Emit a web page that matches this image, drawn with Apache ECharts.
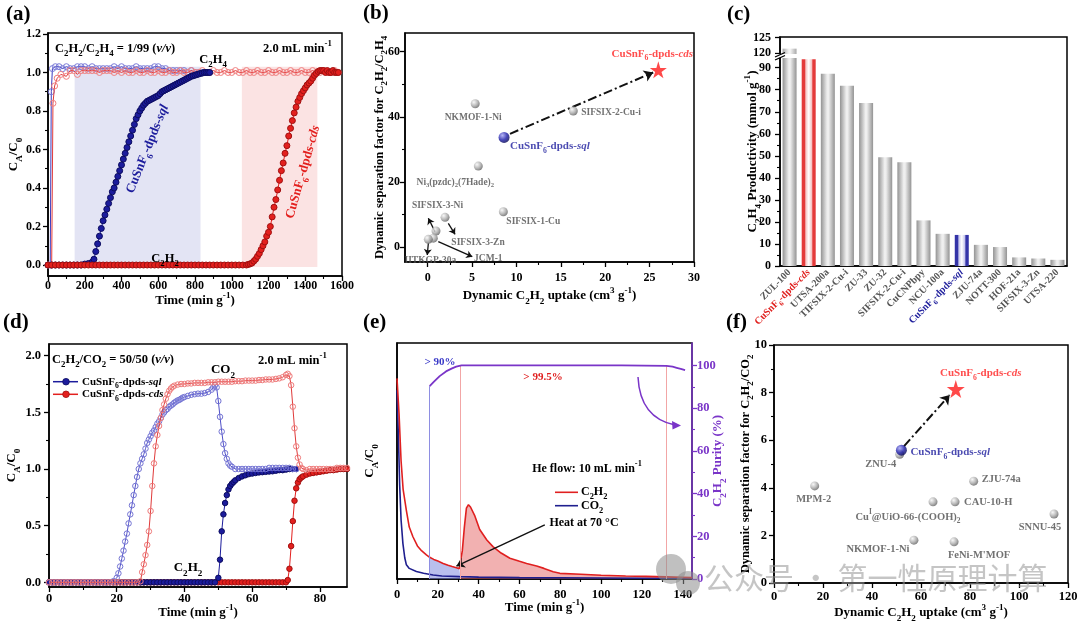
<!DOCTYPE html>
<html><head><meta charset="utf-8">
<script src="https://cdn.jsdelivr.net/npm/echarts@6/dist/echarts.min.js"></script>
<style>html,body{margin:0;padding:0;background:#fff}#c{width:1080px;height:623px}</style>
</head><body><div id="c"></div>
<script>
// ===================== DATA =====================
// (a) C2H2/C2H4 breakthrough  [time, C/C0]
const aSqlC2H4 = [[0,0],[12,0],[18,0.9],[24,1.02],[40,1.03],[60,1.03],[80,1.02],[100,1.03],[120,1.02],[140,1.02],[160,1.03],[180,1.03],[200,1.03],[220,1.02],[240,1.03],[260,1.02],[280,1.02],[300,1.02],[320,1.02],[340,1.02],[360,1.03],[380,1.02],[400,1.03],[420,1.02],[440,1.02],[460,1.02],[480,1.03],[500,1.02],[520,1.02],[540,1.02],[560,1.02],[580,1.03],[600,1.03],[620,1.02],[640,1.02],[660,1.01],[680,1.01],[700,1.01],[720,1.01],[740,1.01],[760,1.0],[780,1.01],[800,1.0],[820,1.0],[840,1.0],[860,1.0],[880,1.0]];
const aCdsC2H4 = [[0,0],[20,0],[27,0.84],[36,0.93],[50,0.97],[70,0.99],[100,0.98],[120,1.01],[140,1.01],[160,0.99],[180,1.01],[200,1.01],[220,1.01],[240,1.01],[260,1.01],[280,1.0],[300,1.01],[320,1.01],[340,1.01],[360,1.0],[380,1.01],[400,1.0],[420,1.01],[440,1.0],[460,1.0],[480,1.01],[500,1.0],[520,1.0],[540,1.01],[560,1.0],[580,1.0],[600,1.01],[620,1.0],[640,1.0],[660,1.01],[680,1.0],[700,1.0],[720,1.01],[740,1.0],[760,1.0],[780,1.01],[800,1.0],[820,1.0],[840,1.01],[860,1.0],[880,1.0],[900,1.01],[920,1.0],[940,1.0],[960,1.01],[980,1.0],[1000,1.0],[1020,1.01],[1040,1.0],[1060,1.0],[1080,1.01],[1100,1.0],[1120,1.0],[1140,1.01],[1160,1.0],[1180,1.0],[1200,1.01],[1220,1.0],[1240,1.0],[1260,1.01],[1280,1.0],[1300,1.0],[1320,1.01],[1340,1.0],[1360,1.0],[1380,1.01],[1400,1.0],[1420,1.0],[1440,1.01],[1460,1.0],[1480,1.0],[1500,1.01],[1520,1.0],[1540,1.0],[1560,1.01],[1580,1.0]];
const aSqlC2H2 = [[0,0],[20,0],[40,0],[60,0],[80,0],[100,0],[120,0],[140,0],[160,0],[180,0],[200,0.005],[220,0.008],[240,0.015],[250,0.03],[260,0.07],[270,0.11],[280,0.15],[290,0.19],[300,0.23],[310,0.26],[320,0.29],[330,0.32],[340,0.35],[350,0.38],[360,0.4],[370,0.43],[380,0.46],[390,0.49],[400,0.52],[410,0.55],[420,0.58],[430,0.61],[440,0.64],[450,0.67],[460,0.7],[470,0.73],[480,0.76],[490,0.78],[500,0.8],[510,0.815],[520,0.83],[530,0.84],[540,0.85],[550,0.855],[560,0.86],[570,0.865],[580,0.87],[590,0.875],[600,0.88],[610,0.89],[620,0.9],[630,0.905],[640,0.91],[650,0.915],[660,0.92],[670,0.925],[680,0.93],[690,0.935],[700,0.94],[710,0.945],[720,0.95],[730,0.955],[740,0.96],[750,0.965],[760,0.97],[770,0.975],[780,0.98],[790,0.983],[800,0.986],[810,0.989],[820,0.992],[830,0.995],[840,0.997],[850,1.0],[860,1.0],[870,1.0],[880,1.0]];
const aCdsC2H2 = [[0,0],[20,0],[40,0],[60,0],[80,0],[100,0],[120,0],[140,0],[160,0],[180,0],[200,0],[220,0],[240,0],[260,0],[280,0],[300,0],[320,0],[340,0],[360,0],[380,0],[400,0],[420,0],[440,0],[460,0],[480,0],[500,0],[520,0],[540,0],[560,0],[580,0],[600,0],[620,0],[640,0],[660,0],[680,0],[700,0],[720,0],[740,0],[760,0],[780,0],[800,0],[820,0],[840,0],[860,0],[880,0],[900,0],[920,0],[940,0],[960,0],[980,0],[1000,0],[1020,0],[1040,0],[1060,0],[1080,0],[1090,0.003],[1100,0.006],[1110,0.01],[1120,0.02],[1130,0.03],[1140,0.045],[1150,0.06],[1160,0.08],[1170,0.1],[1180,0.12],[1190,0.15],[1200,0.17],[1210,0.2],[1220,0.25],[1230,0.3],[1240,0.34],[1250,0.39],[1260,0.44],[1270,0.49],[1280,0.53],[1290,0.58],[1300,0.62],[1310,0.67],[1320,0.71],[1330,0.75],[1340,0.79],[1350,0.82],[1360,0.85],[1370,0.87],[1380,0.89],[1390,0.905],[1400,0.92],[1410,0.935],[1420,0.945],[1430,0.955],[1440,0.97],[1450,0.985],[1460,0.995],[1470,1.005],[1480,1.01],[1490,1.01],[1500,1.01],[1510,1.0],[1520,1.01],[1530,1.0],[1540,1.0],[1550,1.01],[1560,1.0],[1570,1.0],[1580,1.0]];
const aShade = [[145,830,-0.01,1.03],[1055,1466,-0.01,1.03]];   // [x0,x1,y0,y1]
const aXTicks = [0,200,400,600,800,1000,1200,1400,1600];
const aXMinor = [100,300,500,700,900,1100,1300,1500];
const aYTicks = [0,0.2,0.4,0.6,0.8,1.0,1.2];
const aYMinor = [0.1,0.3,0.5,0.7,0.9,1.1];

// (b) C2H2/C2H4 dynamic separation
const bNames  = ['NKMOF-1-Ni','SIFSIX-2-Cu-i','Ni_{3}(pzdc)_{2}(7Hade)_{2}','SIFSIX-1-Cu','SIFSIX-3-Ni','SIFSIX-3-Zn','JCM-1','IITKGP-30a'];
const bUptake = [5.35,16.4,5.7,8.52,0.93,1.95,0.63,0.07];
const bFactor = [44.0,41.8,24.9,10.9,5.0,9.2,2.8,2.45];
const bSql = [8.6,33.7];
const bCds = [25.98,54.4];
const bTrend = [[9.27,34.8],[25.4,53.6]];
const bPointers = [[[0.82,4.8],[0.07,8.9]],[[2.32,7.36],[3.08,3.99]],[[1.19,1.72],[5.02,-2.88]],[[0.07,1.23],[-0.05,-2.36]]];
const bXTicks = [0,5,10,15,20,25,30];
const bXMinor = [2.5,7.5,12.5,17.5,22.5,27.5];
const bYTicks = [0,20,40,60];
const bYMinor = [10,30,50];

// (c) C2H4 productivity
const cCats = ['ZUL-100','CuSnF_{6}-dpds-*cds*','UTSA-200a','TIFSIX-2-Cu-i','ZU-33','ZU-32','SIFSIX-2-Cu-i','CuCNPbpy','NCU-100a','CuSnF_{6}-dpds-*sql*','ZJU-74a','NOTT-300','HOF-21a','SIFSIX-3-Zn','UTSA-220'];
const cValues = [121.5,93.8,87.3,81.8,74.0,49.4,47.1,20.7,14.6,14.1,9.6,8.6,3.9,3.4,2.8];
const cBreak = [94.4,119.8];
const cLowTicks = [0,10,20,30,40,50,60,70,80,90];
const cLowMinor = [5,15,25,35,45,55,65,75,85];
const cUpTicks = [120,125];

// (d) C2H2/CO2 breakthrough
const dSqlCO2 = [[0,0],[1,0],[2,0],[3,0],[4,0],[5,0],[6,0],[7,0],[8,0],[9,0],[10,0],[11,0],[12,0],[13,0],[14,0],[15,0],[16,0],[17,0],[18,0],[19,0.01],[20,0.04],[20.5,0.08],[21,0.14],[21.5,0.21],[22,0.28],[22.5,0.36],[23,0.43],[23.5,0.52],[24,0.6],[24.5,0.68],[25,0.77],[25.5,0.85],[26,0.93],[26.5,1.0],[27,1.05],[27.5,1.09],[28,1.13],[28.5,1.18],[29,1.23],[29.5,1.26],[30,1.29],[30.5,1.32],[31,1.34],[31.5,1.37],[32,1.4],[32.5,1.42],[33,1.45],[33.5,1.48],[34,1.5],[34.5,1.52],[35,1.53],[35.5,1.55],[36,1.56],[36.5,1.57],[37,1.585],[37.5,1.595],[38,1.605],[38.5,1.61],[39,1.62],[39.5,1.63],[40,1.635],[41,1.645],[42,1.655],[43,1.66],[44,1.665],[45,1.665],[46,1.67],[47,1.68],[48,1.7],[48.5,1.72],[49,1.74],[49.5,1.72],[50,1.6],[50.5,1.46],[51,1.33],[51.5,1.22],[52,1.14],[52.5,1.09],[53,1.05],[53.5,1.03],[54,1.02],[55,1.0],[56,1.0],[57,1.0],[58,1.0],[59,1.0],[60,1.0],[61,1.0],[62,1.0],[63,1.0],[64,1.0],[65,1.01],[66,1.01],[67,1.01],[68,1.01],[69,1.01],[70,1.01],[71,1.01],[72,1.0],[73,1.0]];
const dCdsCO2 = [[0,0],[1,0],[2,0],[3,0],[4,0],[5,0],[6,0],[7,0],[8,0],[9,0],[10,0],[11,0],[12,0],[13,0],[14,0],[15,0],[16,0],[17,0],[18,0],[19,0],[20,0],[21,0],[22,0],[23,0],[24,0],[25,0],[26,0],[27,0.01],[27.5,0.09],[28,0.16],[28.5,0.24],[29,0.33],[29.5,0.45],[30,0.63],[30.5,0.85],[31,1.05],[31.5,1.2],[32,1.3],[32.5,1.38],[33,1.45],[33.5,1.52],[34,1.57],[34.5,1.62],[35,1.66],[35.5,1.69],[36,1.71],[36.5,1.725],[37,1.735],[38,1.745],[39,1.75],[40,1.75],[41,1.755],[42,1.755],[43,1.76],[44,1.76],[45,1.76],[46,1.76],[47,1.765],[48,1.765],[49,1.765],[50,1.77],[51,1.77],[52,1.77],[53,1.77],[54,1.77],[55,1.775],[56,1.775],[57,1.775],[58,1.78],[59,1.78],[60,1.78],[61,1.78],[62,1.785],[63,1.785],[64,1.79],[65,1.79],[66,1.79],[67,1.795],[68,1.8],[69,1.81],[70,1.83],[70.5,1.84],[71,1.82],[71.5,1.74],[72,1.55],[72.5,1.36],[73,1.2],[73.5,1.1],[74,1.04],[74.5,1.01],[75,1.0],[76,0.99],[77,1.0],[78,1.0],[79,1.0],[80,1.0],[81,1.0],[82,1.0],[83,1.0],[84,1.0],[85,1.01],[86,1.01],[87,1.01],[88,1.01]];
const dSqlC2H2 = [[0,0],[1,0],[2,0],[3,0],[4,0],[5,0],[6,0],[7,0],[8,0],[9,0],[10,0],[11,0],[12,0],[13,0],[14,0],[15,0],[16,0],[17,0],[18,0],[19,0],[20,0],[21,0],[22,0],[23,0],[24,0],[25,0],[26,0],[27,0],[28,0],[29,0],[30,0],[31,0],[32,0],[33,0],[34,0],[35,0],[36,0],[37,0],[38,0],[39,0],[40,0],[41,0],[42,0],[43,0],[44,0],[45,0],[46,0],[47,0],[48,0],[49,0],[50,0.04],[50.5,0.2],[51,0.45],[51.5,0.6],[52,0.7],[52.5,0.77],[53,0.82],[53.5,0.85],[54,0.87],[54.5,0.885],[55,0.9],[56,0.92],[57,0.935],[58,0.945],[59,0.955],[60,0.96],[61,0.965],[62,0.97],[63,0.972],[64,0.975],[65,0.978],[66,0.98],[67,0.985],[68,0.99],[69,0.99],[70,0.995],[71,1.0],[72,1.0],[73,1.0]];
const dCdsC2H2 = [[0,0],[1,0],[2,0],[3,0],[4,0],[5,0],[6,0],[7,0],[8,0],[9,0],[10,0],[11,0],[12,0],[13,0],[14,0],[15,0],[16,0],[17,0],[18,0],[19,0],[20,0],[21,0],[22,0],[23,0],[24,0],[25,0],[26,0],[27,0],[28,0],[29,0],[30,0],[31,0],[32,0],[33,0],[34,0],[35,0],[36,0],[37,0],[38,0],[39,0],[40,0],[41,0],[42,0],[43,0],[44,0],[45,0],[46,0],[47,0],[48,0],[49,0],[50,0],[51,0],[52,0],[53,0],[54,0],[55,0],[56,0],[57,0],[58,0],[59,0],[60,0],[61,0],[62,0],[63,0],[64,0],[65,0],[66,0],[67,0],[68,0],[69,0],[70,0],[70.5,0.02],[71,0.12],[71.5,0.32],[72,0.54],[72.5,0.72],[73,0.83],[73.5,0.88],[74,0.91],[74.5,0.925],[75,0.935],[76,0.95],[77,0.96],[78,0.965],[79,0.97],[80,0.975],[81,0.98],[82,0.985],[83,0.99],[84,0.99],[85,0.995],[86,1.0],[87,1.0],[88,1.0]];
const dXTicks = [0,20,40,60,80];
const dXMinor = [10,30,50,70];
const dYTicks = [0,0.5,1.0,1.5,2.0];
const dYMinor = [0.25,0.75,1.25,1.75];

// (e) desorption
const eC2H2 = [[0,0.85],[1,0.7],[2,0.5],[3,0.38],[4.6,0.29],[6,0.22],[7.8,0.179],[10,0.14],[12,0.12],[14.4,0.102],[16,0.092],[18,0.083],[20,0.076],[22.6,0.066],[25,0.058],[27,0.053],[29.1,0.048],[30.5,0.044],[31.2,0.048],[32,0.12],[33,0.22],[34,0.3],[35,0.315],[36,0.305],[38,0.27],[40.5,0.21],[44,0.165],[47,0.137],[51,0.11],[55.3,0.088],[60,0.075],[63.5,0.066],[68.4,0.055],[72,0.045],[76.5,0.031],[79.8,0.024],[90,0.02],[100,0.016],[112,0.013],[122,0.011],[131.8,0.009],[140,0.007],[144.5,0.006]];
const eCO2 = [[0,0.8],[0.7,0.6],[1.3,0.4],[2,0.25],[2.9,0.15],[3.8,0.09],[4.6,0.06],[6,0.045],[9.5,0.032],[13,0.024],[17.7,0.017],[22,0.013],[30.7,0.01],[40,0.008],[60,0.006],[80,0.005],[100,0.004],[120,0.003],[144.5,0.003]];
const ePurity = [[16,90.3],[18,92.3],[20.9,95],[24,97.2],[26.7,98.5],[29,99.4],[31.6,100],[50,100],[80,100],[110,100],[132,99.8],[135,99.4],[137,98.9],[139,98.4],[141.1,97.8]];
const eVLines = [[16,90.3],[31.2,100],[131.8,99.8]];
const eBlueZone = [16,31.2];
const eRedZone = [31.2,131.8];
const eHeat = [[72.4,0.229],[29.1,0.055]];
const eXTicks = [0,20,40,60,80,100,120,140];
const eXMinor = [10,30,50,70,90,110,130];
const eRTicks = [0,20,40,60,80,100];
const eRMinor = [10,30,50,70,90];

// (f) C2H2/CO2 dynamic separation
const fNames  = ['MPM-2','ZNU-4','ZJU-74a','Cu^{I}@UiO-66-(COOH)_{2}','CAU-10-H','SNNU-45','NKMOF-1-Ni',"FeNi-M'MOF"];
const fUptake = [16.6,51.3,81.5,64.9,73.9,114.3,57.1,73.5];
const fFactor = [4.08,5.41,4.28,3.41,3.41,2.9,1.8,1.73];
const fSql = [52.0,5.58];
const fCds = [74.2,8.15];
const fTrend = [[53.1,5.75],[71.7,7.9]];
const fXTicks = [0,20,40,60,80,100,120];
const fXMinor = [10,30,50,70,90,110];
const fYTicks = [0,2,4,6,8,10];
const fYMinor = [1,3,5,7,9];

// ===================== STYLE / LAYOUT =====================
const F = "'Liberation Serif','Times New Roman',serif";
const BLUE = '#1c1c9c', RED = '#e3201e', PURPLE = '#7a35c8', GRAYT = '#4d4d4d';
// label placement [dx, dy, align]
const labB = {'NKMOF-1-Ni':[-2,13.5,'center'],'SIFSIX-2-Cu-i':[8,2,'left'],'Ni_{3}(pzdc)_{2}(7Hade)_{2}':[-23,16,'center'],'SIFSIX-1-Cu':[3,10,'left'],'SIFSIX-3-Ni':[1.5,-25,'center'],'SIFSIX-3-Zn':[33,25,'center'],'JCM-1':[55,20,'center'],'IITKGP-30a':[2,21,'center']};
const labF = {'MPM-2':[-1,13.5,'center'],'ZNU-4':[-19,10,'center'],'ZJU-74a':[8,-2,'left'],'Cu^{I}@UiO-66-(COOH)_{2}':[-25,15,'center'],'CAU-10-H':[9,0,'left'],'SNNU-45':[-14,13,'center'],'NKMOF-1-Ni':[-36,9,'center'],"FeNi-M'MOF":[25,13,'center']};

function rt(s, p) {
  p = p || '';
  const out = []; let cur = ''; let it = false;
  const flush = () => { if (cur) { out.push('{' + p + (it ? 'i' : 'n') + '|' + cur + '}'); cur = ''; } };
  for (let k = 0; k < s.length; k++) {
    const c = s[k];
    if ((c === '_' || c === '^') && s[k + 1] === '{') {
      flush();
      const j = s.indexOf('}', k + 2);
      out.push('{' + p + (c === '_' ? 's' : 'u') + '|' + s.slice(k + 2, j) + '}');
      k = j; continue;
    }
    if (c === '*') { flush(); it = !it; continue; }
    cur += c;
  }
  flush();
  return out.join('');
}
function RS(size, color, p) {
  p = p || '';
  const L = Math.round(size * 1.5), sz = Math.round(size * 7) / 10, h = Math.round(L / 2);
  const b = {fontFamily: F, fontWeight: 'bold', color: color, fill: color};
  const r = {};
  r[p + 'n'] = Object.assign({}, b, {fontSize: size, lineHeight: L, verticalAlign: 'middle'});
  r[p + 'i'] = Object.assign({}, b, {fontSize: size, lineHeight: L, verticalAlign: 'middle', fontStyle: 'italic'});
  r[p + 's'] = Object.assign({}, b, {fontSize: sz, lineHeight: h, verticalAlign: 'bottom'});
  r[p + 'u'] = Object.assign({}, b, {fontSize: sz, lineHeight: h, verticalAlign: 'top'});
  return r;
}
function ball(c0, c1, c2) {
  return {type: 'radial', x: 0.35, y: 0.32, r: 0.75, colorStops: [{offset: 0, color: c0}, {offset: 0.55, color: c1}, {offset: 1, color: c2}]};
}
const STAR = 'path://M50,0 L61,35 L98,35 L68,57 L79,91 L50,70 L21,91 L32,57 L2,35 L39,35 Z';

const grid = [], xAxis = [], yAxis = [], series = [], graphic = [];
function addGrid(left, top, width, height, show) {
  grid.push({left, top, width, height, show, borderColor: '#000', borderWidth: 1.5, backgroundColor: 'transparent', containLabel: false, outerBoundsMode: 'none'});
  return grid.length - 1;
}
function valAxes(list, gi, o) {
  const color = o.color || '#000';
  const isY = list === yAxis;
  const main = {
    type: 'value', gridIndex: gi, min: o.min, max: o.max, position: o.position,
    axisLine: {show: true, onZero: false, lineStyle: {color, width: 1.5}},
    axisTick: {show: true, customValues: o.majors, length: 5, lineStyle: {color, width: 1.3}},
    axisLabel: {show: true, customValues: o.majors, formatter: o.fmt || (v => String(v)), fontFamily: F, fontWeight: 'bold', fontSize: o.fs || 12.5, color, margin: o.margin},
    splitLine: {show: false}
  };
  if (o.name) {
    main.name = rt(o.name); main.nameLocation = 'middle'; main.nameGap = o.gap; main.nameRotate = isY ? 90 : 0;
    main.nameMoveOverlap = false;
    main.nameTextStyle = {fontFamily: F, fontWeight: 'bold', fontSize: o.nfs || 13, color, rich: RS(o.nfs || 13, color)};
  }
  list.push(main);
  const idx = list.length - 1;
  if (o.minors) list.push({type: 'value', gridIndex: gi, min: o.min, max: o.max, position: o.position,
    axisLine: {show: false, onZero: false}, axisTick: {show: true, customValues: o.minors, length: 3, lineStyle: {color, width: 1.1}},
    axisLabel: {show: false}, splitLine: {show: false}});
  return idx;
}
function T(x, y, s, size, color, align, rotDeg) {
  graphic.push({type: 'text', x, y, rotation: (rotDeg || 0) * Math.PI / 180, z: 100,
    style: {text: rt(s), rich: RS(size, color), align: align || 'left', verticalAlign: 'middle', textAlign: align || 'left', textVerticalAlign: 'middle', fill: color, fontSize: size, fontFamily: F, fontWeight: 'bold'}});
}
function markerLine(xi, yi, data, o) {
  return {type: 'line', xAxisIndex: xi, yAxisIndex: yi, data, symbol: 'circle', symbolSize: o.size, showAllSymbol: true,
    itemStyle: {color: o.fill, borderColor: o.stroke, borderWidth: 1}, lineStyle: {color: o.line, width: 1}, z: o.z, silent: true, animation: false};
}
function arrowMark(pairs, o) {
  return {silent: true, symbol: ['none', 'arrow'], symbolSize: o.head, label: {show: false}, emphasis: {disabled: true},
    lineStyle: {color: o.color, width: o.width, type: o.type || 'solid'},
    data: pairs.map(p => [{coord: p[0]}, {coord: p[1]}])};
}

// ---------- grids
const gA = addGrid(48, 33, 294, 243, true);
const gB = addGrid(405, 33, 289, 229, true);
const gCf = addGrid(780, 37, 287, 229, true);
const gCl = addGrid(780, 58, 287, 208, false);
const gCu = addGrid(780, 37, 287, 17, false);
const gD = addGrid(49, 344, 298, 243, true);
const gE = addGrid(397, 343, 295, 236, true);
const gF = addGrid(774, 345, 294, 238, true);

// ---------- (a)
const axA = valAxes(xAxis, gA, {min: 0, max: 1600, majors: aXTicks, minors: aXMinor, margin: 4, name: 'Time (min g^{-1})', gap: 15, position: 'bottom', fs: 12});
const ayA = valAxes(yAxis, gA, {min: -0.057, max: 1.205, majors: aYTicks, minors: aYMinor, fmt: v => v.toFixed(1), margin: 7, name: 'C_{A}/C_{0}', gap: 24, position: 'left', fs: 12});
const shadeColors = ['#e3e4f4', '#fbe3e3'];
series.push({type: 'custom', xAxisIndex: axA, yAxisIndex: ayA, data: aShade, encode: {x: [0, 1], y: [2, 3]}, z: 1, silent: true,
  renderItem: (params, api) => {
    const p0 = api.coord([api.value(0), api.value(2)]);
    const p1 = api.coord([api.value(1), api.value(3)]);
    return {type: 'rect', shape: {x: p0[0], y: p1[1], width: p1[0] - p0[0], height: p0[1] - p1[1]}, style: {fill: shadeColors[params.dataIndex]}};
  }});
series.push(markerLine(axA, ayA, aSqlC2H4, {size: 6, fill: 'rgba(255,255,255,0)', stroke: '#7c7cd8', line: '#3b3bbf', z: 3}));
series.push(markerLine(axA, ayA, aCdsC2H4, {size: 6, fill: 'rgba(255,255,255,0)', stroke: '#f08080', line: '#e23b3b', z: 4}));
series.push(markerLine(axA, ayA, aSqlC2H2, {size: 6, fill: BLUE, stroke: '#0c0c60', line: BLUE, z: 5}));
series.push(markerLine(axA, ayA, aCdsC2H2, {size: 6, fill: RED, stroke: '#a01010', line: RED, z: 6}));

// ---------- (b)
const axB = valAxes(xAxis, gB, {min: -2.56, max: 30, majors: bXTicks, minors: bXMinor, margin: 10, name: 'Dynamic C_{2}H_{2} uptake (cm^{3} g^{-1})', gap: 24, position: 'bottom', fs: 12});
const ayB = valAxes(yAxis, gB, {min: -4.5, max: 65.7, majors: bYTicks, minors: bYMinor, margin: 5, name: 'Dynamic separation factor for C_{2}H_{2}/C_{2}H_{4}', gap: 16, position: 'left', fs: 12, nfs: 12.5});
function ptLabel(name, lay, size, color) {
  return {show: true, position: 'inside', offset: [lay[0], lay[1]], align: lay[2], verticalAlign: 'middle', formatter: () => rt(name), rich: RS(size, color)};
}
series.push({type: 'scatter', xAxisIndex: axB, yAxisIndex: ayB, symbolSize: 9, z: 5, silent: true,
  itemStyle: {color: ball('#f6f6f6', '#a8a8a8', '#585858')},
  data: bNames.map((n, i) => ({value: [bUptake[i], bFactor[i]], label: ptLabel(n, labB[n], 9.5, GRAYT)})),
  markLine: arrowMark(bPointers, {color: '#111', width: 1.3, head: 6})});
series.push({type: 'scatter', xAxisIndex: axB, yAxisIndex: ayB, symbolSize: 11, z: 6, silent: true,
  itemStyle: {color: ball('#a4a4f4', '#1a1aa8', '#05054a')},
  data: [{value: bSql, label: ptLabel('CuSnF_{6}-dpds-*sql*', [6, 9, 'left'], 11, BLUE)}],
  markLine: arrowMark([bTrend], {color: '#111', width: 2, head: 9, type: [9, 3, 2, 3]})});
series.push({type: 'scatter', xAxisIndex: axB, yAxisIndex: ayB, symbol: STAR, symbolSize: 17, z: 7, silent: true,
  itemStyle: {color: '#ff1c1c'},
  data: [{value: bCds, label: ptLabel('CuSnF_{6}-dpds-*cds*', [-6, -16, 'center'], 11, '#ff2020')}]});

// ---------- (c)
xAxis.push({type: 'value', gridIndex: gCf, show: false, min: 0, max: 1});
yAxis.push({type: 'value', gridIndex: gCf, min: 0, max: 1, axisLine: {show: false}, axisTick: {show: false}, axisLabel: {show: false}, splitLine: {show: false},
  name: rt('C_{2}H_{4} Productivity (mmol g^{-1})'), nameLocation: 'middle', nameGap: 17, nameRotate: 90, nameMoveOverlap: false,
  nameTextStyle: {fontFamily: F, fontWeight: 'bold', fontSize: 13, rich: RS(13, '#000')}});
const cPrefix = v => v.indexOf('*cds*') >= 0 ? 'r' : (v.indexOf('*sql*') >= 0 ? 'b' : '');
xAxis.push({type: 'category', gridIndex: gCl, data: cCats, position: 'bottom',
  axisLine: {onZero: false, lineStyle: {color: '#000', width: 1.5}}, axisTick: {show: false},
  axisLabel: {interval: 0, rotate: 45, margin: 5, formatter: v => rt(v, cPrefix(v)),
    rich: Object.assign({}, RS(10, '#555'), RS(10, '#e0201e', 'r'), RS(10, '#22229e', 'b'))},
  splitLine: {show: false}});
const axCl = xAxis.length - 1;
const ayCl = valAxes(yAxis, gCl, {min: 0, max: cBreak[0], majors: cLowTicks, minors: cLowMinor, margin: 9, position: 'left', fs: 12});
xAxis.push({type: 'category', gridIndex: gCu, data: cCats, show: false});
const axCu = xAxis.length - 1;
const ayCu = valAxes(yAxis, gCu, {min: cBreak[1], max: 125.2, majors: cUpTicks, margin: 9, position: 'left', fs: 12});
function barGrad(edge, mid) {
  return {type: 'linear', x: 0, y: 0, x2: 1, y2: 0, colorStops: [{offset: 0, color: edge}, {offset: 0.45, color: mid}, {offset: 0.55, color: mid}, {offset: 1, color: edge}]};
}
function barStripe(edge, tint) {
  return {type: 'linear', x: 0, y: 0, x2: 1, y2: 0, colorStops: [{offset: 0, color: edge}, {offset: 0.2, color: edge}, {offset: 0.3, color: tint}, {offset: 0.5, color: '#ffffff'}, {offset: 0.7, color: tint}, {offset: 0.8, color: edge}, {offset: 1, color: edge}]};
}
function barStyle(name) {
  const p = cPrefix(name);
  if (p === 'r') return {color: barStripe('#e43a3a', '#f6c6c6')};
  if (p === 'b') return {color: barStripe('#3434a8', '#c8c8ee')};
  return {color: barGrad('#939393', '#efefef')};
}
series.push({type: 'bar', xAxisIndex: axCl, yAxisIndex: ayCl, barWidth: 14, clip: true, silent: true, z: 3,
  data: cValues.map((v, i) => ({value: v, itemStyle: barStyle(cCats[i])}))});
series.push({type: 'bar', xAxisIndex: axCu, yAxisIndex: ayCu, barWidth: 14, clip: true, silent: true, z: 3,
  data: cValues.map((v, i) => v > cBreak[1] ? {value: v, itemStyle: {color: barGrad('#a9a9a9', '#f4f4f4')}} : '-')});

// ---------- (d)
const axD = valAxes(xAxis, gD, {min: 0, max: 88, majors: dXTicks, minors: dXMinor, margin: 5, name: 'Time (min g^{-1})', gap: 16, position: 'bottom', fs: 12.5});
const ayD = valAxes(yAxis, gD, {min: -0.041, max: 2.103, majors: dYTicks, minors: dYMinor, fmt: v => v.toFixed(1), margin: 8, name: 'C_{A}/C_{0}', gap: 27, position: 'left', fs: 12.5});
series.push(markerLine(axD, ayD, dCdsC2H2, {size: 5.5, fill: RED, stroke: '#a01010', line: RED, z: 3}));
series.push(markerLine(axD, ayD, dSqlC2H2, {size: 5.5, fill: BLUE, stroke: '#0c0c60', line: BLUE, z: 4}));
series.push(markerLine(axD, ayD, dSqlCO2, {size: 5.5, fill: 'rgba(255,255,255,0)', stroke: '#7474d4', line: '#5050c8', z: 5}));
series.push(markerLine(axD, ayD, dCdsCO2, {size: 5.5, fill: 'rgba(255,255,255,0)', stroke: '#ef7c7c', line: '#e03a3a', z: 6}));

// ---------- (e)
const axE = valAxes(xAxis, gE, {min: 0, max: 144.5, majors: eXTicks, minors: eXMinor, margin: 9, name: 'Time (min g^{-1})', gap: 19, position: 'bottom', fs: 12.5});
yAxis.push({type: 'value', gridIndex: gE, min: 0, max: 1, position: 'left', axisLine: {show: true, onZero: false, lineStyle: {color: '#000', width: 1.5}},
  axisTick: {show: false}, axisLabel: {show: false}, splitLine: {show: false},
  name: rt('C_{A}/C_{0}'), nameLocation: 'middle', nameGap: 17, nameRotate: 90, nameMoveOverlap: false, nameTextStyle: {fontFamily: F, fontWeight: 'bold', fontSize: 13, rich: RS(13, '#000')}});
const ayE = yAxis.length - 1;
const ayER = valAxes(yAxis, gE, {min: 0, max: 110.5, majors: eRTicks, minors: eRMinor, margin: 5, name: 'C_{2}H_{2} Purity (%)', gap: 16, position: 'right', color: PURPLE, fs: 12.5});
const inZone = z => eC2H2.filter(p => p[0] >= z[0] && p[0] <= z[1]);
series.push({type: 'line', xAxisIndex: axE, yAxisIndex: ayE, data: inZone(eBlueZone), symbol: 'none', lineStyle: {width: 0}, areaStyle: {color: 'rgba(128,138,222,0.55)', opacity: 1}, z: 1, silent: true});
series.push({type: 'line', xAxisIndex: axE, yAxisIndex: ayE, data: inZone(eRedZone), symbol: 'none', lineStyle: {width: 0}, areaStyle: {color: 'rgba(230,100,100,0.5)', opacity: 1}, z: 1, silent: true});
series.push({type: 'line', xAxisIndex: axE, yAxisIndex: ayE, data: eCO2, symbol: 'none', lineStyle: {color: '#1f1f8f', width: 1.6}, z: 3, silent: true});
series.push({type: 'line', xAxisIndex: axE, yAxisIndex: ayE, data: eC2H2, symbol: 'none', lineStyle: {color: '#e02020', width: 1.6}, z: 4, silent: true,
  markLine: arrowMark([eHeat], {color: '#111', width: 1.4, head: 8})});
series.push({type: 'line', xAxisIndex: axE, yAxisIndex: ayER, data: ePurity, symbol: 'none', lineStyle: {color: PURPLE, width: 1.8}, z: 5, silent: true,
  markLine: {silent: true, symbol: ['none', 'none'], label: {show: false}, emphasis: {disabled: true},
    data: eVLines.map((p, i) => [{coord: [p[0], 0], lineStyle: {color: i === 0 ? '#8e8ee2' : '#f2a6a6', width: 1, type: 'solid'}}, {coord: [p[0], p[1]]}])}});

// ---------- (f)
const axF = valAxes(xAxis, gF, {min: 0, max: 120, majors: fXTicks, minors: fXMinor, margin: 7, name: 'Dynamic C_{2}H_{2} uptake (cm^{3} g^{-1})', gap: 20, position: 'bottom', fs: 12.5});
const ayF = valAxes(yAxis, gF, {min: 0, max: 10, majors: fYTicks, minors: fYMinor, margin: 7, name: 'Dynamic separation factor for C_{2}H_{2}/CO_{2}', gap: 19, position: 'left', fs: 12.5, nfs: 12.5});
series.push({type: 'scatter', xAxisIndex: axF, yAxisIndex: ayF, symbolSize: 9, z: 5, silent: true,
  itemStyle: {color: ball('#f6f6f6', '#a8a8a8', '#585858')},
  data: fNames.map((n, i) => ({value: [fUptake[i], fFactor[i]], label: ptLabel(n, labF[n], 10.5, GRAYT)}))});
series.push({type: 'scatter', xAxisIndex: axF, yAxisIndex: ayF, symbolSize: 11, z: 6, silent: true,
  itemStyle: {color: ball('#a4a4f4', '#1a1aa8', '#05054a')},
  data: [{value: fSql, label: ptLabel('CuSnF_{6}-dpds-*sql*', [9, 2, 'left'], 11, BLUE)}],
  markLine: arrowMark([fTrend], {color: '#111', width: 2, head: 9, type: [9, 3, 2, 3]})});
series.push({type: 'scatter', xAxisIndex: axF, yAxisIndex: ayF, symbol: STAR, symbolSize: 18, z: 7, silent: true,
  itemStyle: {color: '#ff1c1c'},
  data: [{value: fCds, label: ptLabel('CuSnF_{6}-dpds-*cds*', [25, -16, 'center'], 11, '#ff2020')}]});

// ---------- annotations
T(6, 15, '(a)', 21, '#000', 'left'); T(363, 14, '(b)', 21, '#000', 'left'); T(727, 15, '(c)', 21, '#000', 'left');
T(3, 323, '(d)', 21, '#000', 'left'); T(363, 323, '(e)', 21, '#000', 'left'); T(726, 323, '(f)', 21, '#000', 'left');
// (a)
T(55, 49, 'C_{2}H_{2}/C_{2}H_{4} = 1/99 (*v/v*)', 12.5, '#000', 'left');
T(263, 49, '2.0 mL min^{-1}', 12.5, '#000', 'left');
T(213, 60, 'C_{2}H_{4}', 12.5, '#000', 'center');
T(165, 259, 'C_{2}H_{2}', 12.5, '#000', 'center');
T(147.5, 149, 'CuSnF_{6}-dpds-*sql*', 13, BLUE, 'center', 68);
T(303, 172, 'CuSnF_{6}-dpds-*cds*', 13, RED, 'center', 74);
// (c) axis break
graphic.push({type: 'rect', shape: {x: 774, y: 54.3, width: 12, height: 3.4}, style: {fill: '#fff'}, z: 90});
graphic.push({type: 'line', shape: {x1: 775, y1: 57, x2: 785, y2: 52.5}, style: {stroke: '#000', lineWidth: 1.3}, z: 91});
graphic.push({type: 'line', shape: {x1: 775, y1: 60, x2: 785, y2: 55.5}, style: {stroke: '#000', lineWidth: 1.3}, z: 91});
// (d)
T(52, 360, 'C_{2}H_{2}/CO_{2} = 50/50 (*v/v*)', 12.5, '#000', 'left');
T(258, 361, '2.0 mL min^{-1}', 12.5, '#000', 'left');
T(223, 370, 'CO_{2}', 13, '#000', 'center');
T(188, 568, 'C_{2}H_{2}', 13, '#000', 'center');
graphic.push({type: 'line', shape: {x1: 53, y1: 381.7, x2: 78, y2: 381.7}, style: {stroke: BLUE, lineWidth: 1.5}, z: 100});
graphic.push({type: 'circle', shape: {cx: 66, cy: 381.7, r: 3.3}, style: {fill: BLUE, stroke: '#0c0c60', lineWidth: 0.8}, z: 101});
graphic.push({type: 'line', shape: {x1: 53, y1: 394.3, x2: 78, y2: 394.3}, style: {stroke: RED, lineWidth: 1.5}, z: 100});
graphic.push({type: 'circle', shape: {cx: 66, cy: 394.3, r: 3.3}, style: {fill: RED, stroke: '#a01010', lineWidth: 0.8}, z: 101});
T(82, 381.7, 'CuSnF_{6}-dpds-*sql*', 11, '#000', 'left');
T(82, 394.3, 'CuSnF_{6}-dpds-*cds*', 11, '#000', 'left');
// (e)
T(440, 362, '> 90%', 11, '#3a3ac8', 'center');
T(543, 377, '> 99.5%', 11, '#e02020', 'center');
T(587, 469, 'He flow: 10 mL min^{-1}', 12, '#000', 'center');
graphic.push({type: 'line', shape: {x1: 555, y1: 492.3, x2: 578, y2: 492.3}, style: {stroke: '#e02020', lineWidth: 1.6}, z: 100});
graphic.push({type: 'line', shape: {x1: 555, y1: 505.7, x2: 578, y2: 505.7}, style: {stroke: '#1f1f8f', lineWidth: 1.6}, z: 100});
T(581, 492.3, 'C_{2}H_{2}', 12, '#000', 'left');
T(581, 505.7, 'CO_{2}', 12, '#000', 'left');
T(584, 523, 'Heat at 70 °C', 12, '#000', 'center');
graphic.push({type: 'bezierCurve', shape: {x1: 638, y1: 377, x2: 675, y2: 425, cpx1: 640, cpy1: 418}, style: {stroke: PURPLE, lineWidth: 1.5, fill: null}, z: 100});
graphic.push({type: 'polygon', shape: {points: [[681, 425.5], [672, 421], [672.5, 429.5]]}, style: {fill: PURPLE}, z: 100});
// watermark
graphic.push({type: 'circle', shape: {cx: 671, cy: 569, r: 15}, style: {fill: 'rgba(140,140,140,0.55)'}, z: 120});
graphic.push({type: 'circle', shape: {cx: 688, cy: 583, r: 12}, style: {fill: 'rgba(140,140,140,0.55)'}, z: 120});
graphic.push({type: 'text', x: 704, y: 578, z: 120, style: {text: '公众号 · 第一性原理计算', fontSize: 30, fontFamily: "'Noto Sans CJK SC'", fill: 'rgba(150,150,150,0.55)', verticalAlign: 'middle', textVerticalAlign: 'middle', align: 'left', textAlign: 'left'}});

const chart = echarts.init(document.getElementById('c'), null, {renderer: 'canvas'});
chart.setOption({
  animation: false,
  backgroundColor: '#fff',
  textStyle: {fontFamily: F},
  grid, xAxis, yAxis, series, graphic
});
</script></body></html>
